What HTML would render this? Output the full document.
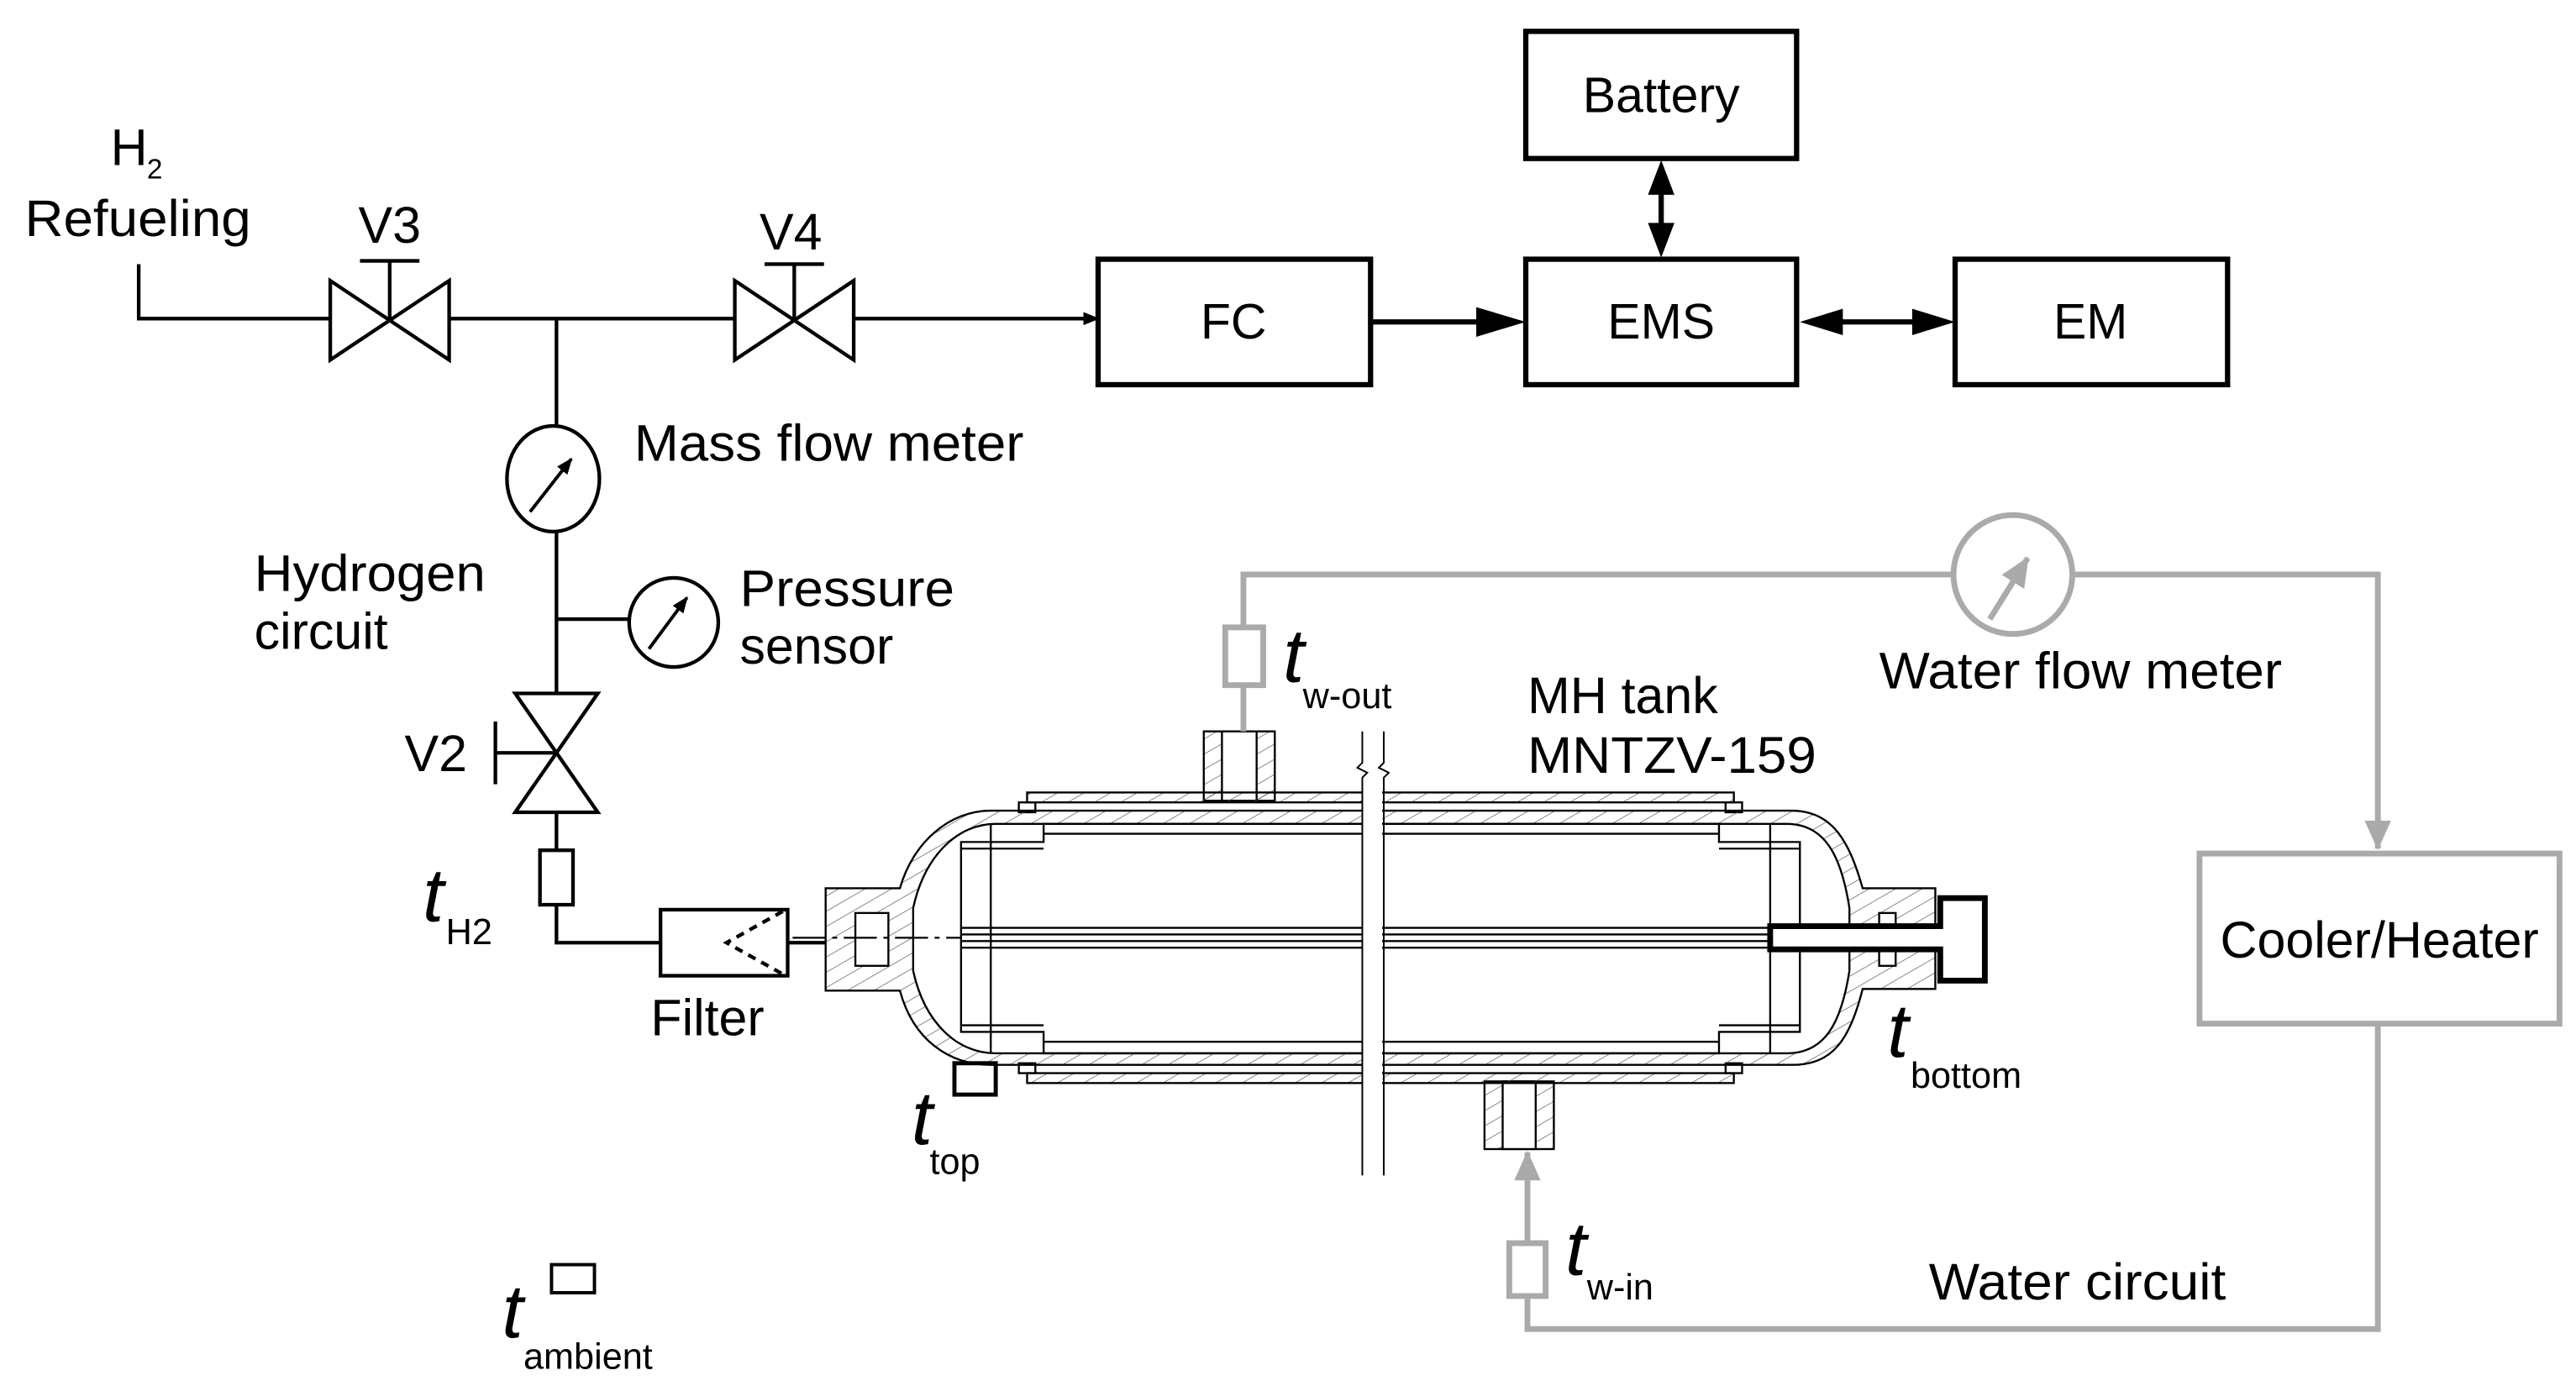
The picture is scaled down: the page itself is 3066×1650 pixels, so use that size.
<!DOCTYPE html>
<html><head><meta charset="utf-8"><style>
html,body{margin:0;padding:0;background:#fff}
svg{display:block}
text{font-family:"Liberation Sans",sans-serif;fill:#000}
.it{font-style:italic}
</style></head><body>
<svg width="3066" height="1650" viewBox="0 0 1560 839.5" preserveAspectRatio="none" xmlns="http://www.w3.org/2000/svg">
<defs>
<marker id="ab" markerWidth="10" markerHeight="8" refX="9" refY="4" orient="auto" markerUnits="userSpaceOnUse"><path d="M0,0 L10,4 L0,8 z" fill="#000"/></marker>
<marker id="ag" markerWidth="18" markerHeight="16" refX="17" refY="8" orient="auto" markerUnits="userSpaceOnUse"><path d="M0,0 L18,8 L0,16 z" fill="#aaa"/></marker>
<pattern id="h" width="8" height="8" patternUnits="userSpaceOnUse" patternTransform="rotate(60)"><line x1="0" y1="0" x2="0" y2="8" stroke="#555" stroke-width="0.7"/></pattern>
</defs>

<g fill="none" stroke="#000" stroke-width="2.2">
<polyline points="84,160 84,193 200,193"/>
<line x1="272" y1="193" x2="445" y2="193"/>
<line x1="517" y1="193" x2="665" y2="193" marker-end="url(#ab)"/>
<path d="M200,170 L272,218 L272,170 L200,218 Z"/>
<line x1="236" y1="158" x2="236" y2="193"/><line x1="218" y1="158" x2="254" y2="158"/>
<path d="M445,170 L517,218 L517,170 L445,218 Z"/>
<line x1="481" y1="160" x2="481" y2="193"/><line x1="463" y1="160" x2="499" y2="160"/>
<line x1="337" y1="193" x2="337" y2="258"/>
<ellipse cx="335" cy="290" rx="28" ry="32"/>
<line x1="337" y1="322" x2="337" y2="420"/>
<line x1="337" y1="375" x2="381" y2="375"/>
<circle cx="408" cy="377" r="27"/>
<path d="M312,420 L362,420 L312,492 L362,492 Z"/>
<line x1="300" y1="456" x2="337" y2="456"/><line x1="300" y1="437" x2="300" y2="475"/>
<line x1="337" y1="492" x2="337" y2="515"/>
<rect x="327" y="515" width="20" height="33"/>
<polyline points="337,548 337,571 400,571"/>
<rect x="400" y="551" width="77" height="40"/>
<line x1="477" y1="571" x2="500" y2="571"/>
<polyline points="474,552 440,571 474,590" stroke-dasharray="5,4"/>
</g>
<line x1="321" y1="310" x2="346" y2="278" stroke="#000" stroke-width="2" marker-end="url(#ab)"/>
<line x1="393" y1="393" x2="416" y2="362" stroke="#000" stroke-width="2" marker-end="url(#ab)"/>

<g fill="none" stroke="#000" stroke-width="3.2">
<rect x="665" y="157" width="165" height="76"/>
<rect x="924" y="157" width="164" height="76"/>
<rect x="1184" y="157" width="165" height="76"/>
<rect x="924" y="19" width="164" height="77"/>
<line x1="830" y1="195" x2="900" y2="195"/>
<line x1="1110" y1="195" x2="1162" y2="195"/>
<line x1="1006" y1="112" x2="1006" y2="141"/>
</g>
<g fill="#000">
<path d="M924,195 L894,186 L894,204 Z"/>
<path d="M1090,195 L1116,187 L1116,203 Z"/>
<path d="M1184,195 L1158,187 L1158,203 Z"/>
<path d="M1006,97 L998,118 L1014,118 Z"/>
<path d="M1006,156 L998,135 L1014,135 Z"/>
</g>
<g font-size="30" text-anchor="middle">
<text x="747" y="205">FC</text><text x="1006" y="205">EMS</text><text x="1266" y="205">EM</text><text x="1006" y="68">Battery</text>
</g>

<g fill="none" stroke="#000" stroke-width="1.2">
<rect x="729" y="443" width="43" height="42" fill="url(#h)"/>
<rect x="740" y="443" width="21" height="42" fill="#fff"/>
<rect x="899" y="655" width="42" height="41" fill="url(#h)"/>
<rect x="910" y="655" width="20" height="41" fill="#fff"/>
<rect x="622" y="480" width="428" height="6" fill="url(#h)"/>
<rect x="622" y="650" width="428" height="6" fill="url(#h)"/>
<rect x="617" y="486" width="10" height="6"/><rect x="1045" y="486" width="10" height="6"/>
<rect x="617" y="644" width="10" height="6"/><rect x="1045" y="644" width="10" height="6"/>
<path d="M600,491 L1085,491 C1110,491 1120,510 1128,538 L1172,538 L1172,599 L1128,599 C1120,630 1110,645 1085,645 L600,645 C575,645 553,630 545,600 L500,600 L500,538 L545,538 C553,510 575,491 600,491 Z" fill="url(#h)"/>
<path d="M603,499 L1082,499 C1105,499 1115,518 1120,550 L1120,588 C1115,620 1105,638 1082,638 L603,638 C580,638 560,620 553,588 L553,550 C560,518 580,499 603,499 Z" fill="#fff"/>
<rect x="518" y="553" width="20" height="32" fill="#fff"/>
<path d="M582,510 L632,510 L632,499 L1041,499 L1041,510 L1090,510 L1090,625 L1041,625 L1041,638 L632,638 L632,625 L582,625 Z"/>
<line x1="582" y1="514" x2="632" y2="514"/><line x1="1041" y1="514" x2="1090" y2="514"/>
<line x1="582" y1="621" x2="632" y2="621"/><line x1="1041" y1="621" x2="1090" y2="621"/>
<line x1="632" y1="631" x2="1041" y2="631"/><line x1="632" y1="505" x2="1041" y2="505"/>
<line x1="600" y1="499" x2="600" y2="638"/><line x1="1072" y1="499" x2="1072" y2="638"/>
<line x1="582" y1="562" x2="1075" y2="562"/><line x1="582" y1="566" x2="1075" y2="566"/>
<line x1="582" y1="570" x2="1075" y2="570"/><line x1="582" y1="574" x2="1075" y2="574"/>
<line x1="480" y1="568" x2="582" y2="568" stroke-dasharray="20,4,3,4"/>
<rect x="1138" y="553" width="10" height="32" fill="#fff"/>
</g>
<g stroke="#fff" stroke-width="12"><line x1="831" y1="443" x2="831" y2="712"/></g>
<g stroke="#000" stroke-width="1" fill="none">
<path d="M825,443 L825,462 L822,465 L828,468 L825,471 L825,712"/>
<path d="M838,443 L838,462 L835,465 L841,468 L838,471 L838,712"/>
</g>
<path d="M1072,561 L1175,561 L1175,544 L1202,544 L1202,594 L1175,594 L1175,575 L1072,575 Z" fill="#fff" stroke="#000" stroke-width="3.5"/>
<rect x="578" y="644" width="25" height="19" fill="none" stroke="#000" stroke-width="2.5"/>
<rect x="334" y="766" width="26" height="17" fill="none" stroke="#000" stroke-width="2"/>

<g fill="none" stroke="#aaa" stroke-width="3.5">
<polyline points="753,443 753,415"/>
<rect x="742" y="380" width="23" height="35"/>
<polyline points="753,380 753,348 1183,348"/>
<circle cx="1219" cy="348" r="36"/>
<polyline points="1255,348 1440,348 1440,514" marker-end="url(#ag)"/>
<rect x="1332" y="517" width="218" height="103"/>
<polyline points="1440,620 1440,805 925,805 925,785"/>
<rect x="914" y="753" width="22" height="32"/>
<line x1="925" y1="753" x2="925" y2="698" marker-end="url(#ag)"/>
<line x1="1205" y1="375" x2="1228" y2="338" marker-end="url(#ag)"/>
</g>
<text x="1441" y="580" font-size="31" text-anchor="middle">Cooler/Heater</text>

<g font-size="31">
<text x="67" y="100">H</text><text x="89" y="108" font-size="17">2</text>
<text x="15" y="143" textLength="137" lengthAdjust="spacingAndGlyphs">Refueling</text>
<text x="217" y="147">V3</text>
<text x="460" y="151">V4</text>
<text x="384" y="279" textLength="236" lengthAdjust="spacingAndGlyphs">Mass flow meter</text>
<text x="154" y="358" textLength="140" lengthAdjust="spacingAndGlyphs">Hydrogen</text><text x="154" y="393">circuit</text>
<text x="448" y="367" textLength="130" lengthAdjust="spacingAndGlyphs">Pressure</text><text x="448" y="402">sensor</text>
<text x="245" y="467">V2</text>
<text x="394" y="627">Filter</text>
<text x="925" y="432">MH tank</text>
<text x="925" y="468" textLength="175" lengthAdjust="spacingAndGlyphs">MNTZV-159</text>
<text x="1138" y="417" textLength="244" lengthAdjust="spacingAndGlyphs">Water flow meter</text>
<text x="1168" y="787" textLength="180" lengthAdjust="spacingAndGlyphs">Water circuit</text>
</g>
<g font-size="46" class="it">
<text x="256" y="558">t</text>
<text x="777" y="413">t</text>
<text x="552" y="693">t</text>
<text x="1143" y="640">t</text>
<text x="948" y="772">t</text>
<text x="304" y="810">t</text>
</g>
<g font-size="22">
<text x="270" y="572">H2</text>
<text x="789" y="429">w-out</text>
<text x="563" y="711">top</text>
<text x="1157" y="659">bottom</text>
<text x="961" y="787">w-in</text>
<text x="317" y="829">ambient</text>
</g>
</svg>
</body></html>
